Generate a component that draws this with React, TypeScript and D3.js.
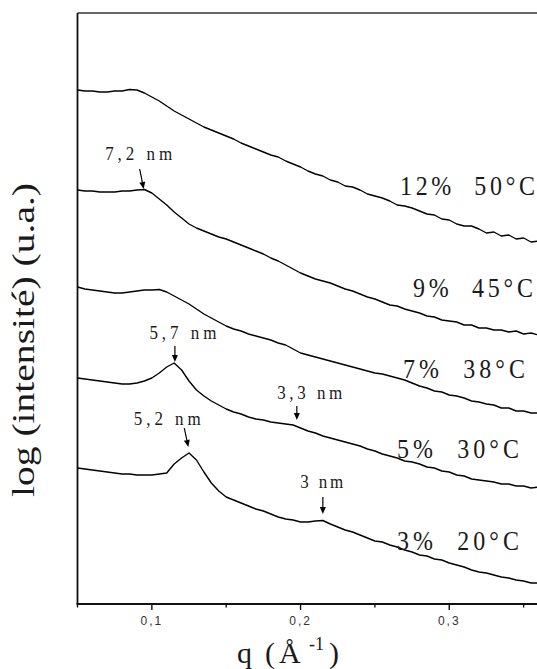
import React from 'react';
import * as d3 from 'd3';

// scattering vector q (Å^-1)
const qValues = [
  0.05, 0.055, 0.06, 0.065, 0.07, 0.075, 0.08, 0.085, 0.09, 0.095,
  0.1, 0.105, 0.11, 0.115, 0.12, 0.125, 0.13, 0.135, 0.14, 0.145,
  0.15, 0.155, 0.16, 0.165, 0.17, 0.175, 0.18, 0.185, 0.19, 0.195,
  0.2, 0.205, 0.21, 0.215, 0.22, 0.225, 0.23, 0.235, 0.24, 0.245,
  0.25, 0.255, 0.26, 0.265, 0.27, 0.275, 0.28, 0.285, 0.29, 0.295,
  0.3, 0.305, 0.31, 0.315, 0.32, 0.325, 0.33, 0.335, 0.34, 0.345,
  0.35, 0.355, 0.36,
];

// log intensity (arbitrary units, curves shifted vertically)
const c12_50 = [
  5.14, 5.13, 5.13, 5.12, 5.12, 5.13, 5.13, 5.145, 5.14, 5.11,
  5.07, 5.03, 4.98, 4.93, 4.89, 4.85, 4.81, 4.77, 4.74, 4.71,
  4.68, 4.65, 4.61, 4.58, 4.55, 4.52, 4.49, 4.47, 4.43, 4.40,
  4.37, 4.33, 4.30, 4.28, 4.24, 4.22, 4.18, 4.17, 4.14, 4.10,
  4.08, 4.06, 4.03, 3.99, 3.98, 3.96, 3.93, 3.90, 3.89, 3.85,
  3.84, 3.80, 3.78, 3.78, 3.75, 3.71, 3.72, 3.68, 3.69, 3.65,
  3.66, 3.62, 3.63,
];
const c9_45 = [
  4.14, 4.13, 4.13, 4.12, 4.12, 4.12, 4.13, 4.13, 4.14, 4.145,
  4.11, 4.05, 3.99, 3.92, 3.86, 3.80, 3.76, 3.73, 3.70, 3.67,
  3.65, 3.62, 3.59, 3.56, 3.53, 3.50, 3.46, 3.43, 3.39, 3.35,
  3.31, 3.28, 3.25, 3.23, 3.21, 3.18, 3.15, 3.13, 3.10, 3.07,
  3.05, 3.02, 2.99, 2.98, 2.95, 2.93, 2.91, 2.88, 2.87, 2.84,
  2.83, 2.82, 2.79, 2.79, 2.76, 2.76, 2.74, 2.74, 2.72, 2.73,
  2.70, 2.71, 2.69,
];
const c7_38 = [
  3.17, 3.15, 3.14, 3.13, 3.12, 3.11, 3.11, 3.12, 3.13, 3.14,
  3.14, 3.145, 3.12, 3.08, 3.04, 3.00, 2.95, 2.90, 2.86, 2.82,
  2.78, 2.75, 2.73, 2.70, 2.68, 2.66, 2.64, 2.61, 2.59, 2.55,
  2.51, 2.49, 2.47, 2.45, 2.43, 2.41, 2.39, 2.37, 2.35, 2.33,
  2.31, 2.30, 2.28, 2.26, 2.24, 2.21, 2.18, 2.16, 2.13, 2.12,
  2.09, 2.08, 2.06, 2.03, 2.02, 2.00, 1.99, 1.96, 1.96, 1.93,
  1.93, 1.91, 1.91,
];
const c5_30 = [
  2.26, 2.25, 2.24, 2.23, 2.22, 2.21, 2.20, 2.20, 2.21, 2.23,
  2.26, 2.31, 2.37, 2.41, 2.34, 2.23, 2.14, 2.08, 2.03, 1.99,
  1.95, 1.92, 1.90, 1.87, 1.85, 1.84, 1.82, 1.81, 1.80, 1.79,
  1.76, 1.73, 1.71, 1.68, 1.66, 1.64, 1.62, 1.60, 1.58, 1.55,
  1.53, 1.50, 1.48, 1.46, 1.43, 1.42, 1.40, 1.37, 1.36, 1.33,
  1.32, 1.29, 1.28, 1.25, 1.24, 1.23, 1.22, 1.20, 1.20, 1.18,
  1.18, 1.16, 1.17,
];
const c3_20 = [
  1.36, 1.35, 1.34, 1.33, 1.32, 1.31, 1.30, 1.30, 1.29, 1.29,
  1.29, 1.30, 1.31, 1.40, 1.46, 1.51, 1.44, 1.32, 1.21, 1.13,
  1.07, 1.04, 1.01, 0.98, 0.95, 0.93, 0.90, 0.87, 0.85, 0.84,
  0.82, 0.82, 0.83, 0.835, 0.80, 0.77, 0.74, 0.72, 0.69, 0.66,
  0.63, 0.62, 0.59, 0.57, 0.54, 0.52, 0.49, 0.48, 0.45, 0.44,
  0.41, 0.39, 0.37, 0.34, 0.32, 0.31, 0.29, 0.27, 0.26, 0.24,
  0.23, 0.21, 0.21,
];

const seriesValues = [c12_50, c9_45, c7_38, c5_30, c3_20];
const seriesLabels = ['12%  50°C', '9%  45°C', '7%  38°C', '5%  30°C', '3%  20°C'];

// peak annotations: label, q of arrow, log-intensity at arrow tip
const peakLabels = ['7,2 nm', '5,7 nm', '3,3 nm', '5,2 nm', '3 nm'];
const peakQ = [0.0945, 0.1155, 0.1975, 0.1245, 0.215];
const peakTip = [4.15, 2.42, 1.84, 1.57, 0.9];

const majorTicks = [0.1, 0.2, 0.3];
const majorTickLabels = ['0,1', '0,2', '0,3'];
const minorTicks = [0.05, 0.15, 0.25, 0.35];

const SERIF = '"Liberation Serif", "Times New Roman", Times, serif';
const SANS = '"Liberation Sans", Arial, Helvetica, sans-serif';

export default function App() {
  const W = 537;
  const H = 669;
  const left = 77.5;
  const top = 13;
  const bottom = 604;

  const x = d3.scaleLinear().domain([0.05, 0.36]).range([left, left + 0.31 * 1487]);
  const y = d3.scaleLinear().domain([0, 5.91]).range([bottom, top]);

  const line = d3
    .line<number>()
    .x((_, i) => x(qValues[i]))
    .y((d) => y(d));

  // layout of text (pixels)
  const seriesLabelPos = [
    { x: 400, y: 195, w: 135 },
    { x: 413, y: 297, w: 120 },
    { x: 403, y: 378, w: 122 },
    { x: 397, y: 458, w: 122 },
    { x: 397, y: 550, w: 122 },
  ];
  // arrow start offset (dx, dy) from tip, label centre offset, label width
  const peakLayout = [
    { ax: -4, ay: -20, lx: -5, ly: -29, w: 67 },
    { ax: 0, ay: -16, lx: 8, ly: -23, w: 67 },
    { ax: 0, ay: -14, lx: 13, ly: -21, w: 65 },
    { ax: -4, ay: -19, lx: -21, ly: -22, w: 67 },
    { ax: 0, ay: -17, lx: -1, ly: -26, w: 43 },
  ];

  return (
    <svg
      width={W}
      height={H}
      style={{ position: 'absolute', left: 0, top: 0, background: '#fff' }}
    >
      <rect x={0} y={0} width={W} height={H} fill="#fff" />

      {/* frame */}
      <line x1={left} x2={W} y1={top} y2={top} stroke="#333" strokeWidth={1.5} />
      <line x1={left} x2={left} y1={top} y2={bottom} stroke="#111" strokeWidth={1.8} />
      <line x1={left - 1} x2={W} y1={bottom} y2={bottom} stroke="#111" strokeWidth={1.8} />

      {/* ticks */}
      {majorTicks.map((t, i) => (
        <g key={'M' + i}>
          <line x1={x(t)} x2={x(t)} y1={bottom} y2={bottom + 6} stroke="#111" strokeWidth={1.4} />
          <text
            x={x(t)}
            y={625}
            textAnchor="middle"
            fontFamily={SANS}
            fontSize={12}
            letterSpacing={2}
            fill="#333"
          >
            {majorTickLabels[i]}
          </text>
        </g>
      ))}
      {minorTicks.map((t, i) => (
        <line key={'m' + i} x1={x(t)} x2={x(t)} y1={bottom} y2={bottom + 3.5} stroke="#111" strokeWidth={1.4} />
      ))}

      {/* curves */}
      {seriesValues.map((vals, i) => (
        <path
          key={'c' + i}
          d={line(vals) || ''}
          fill="none"
          stroke="#000"
          strokeWidth={1.4}
          strokeLinejoin="round"
        />
      ))}

      {/* series labels */}
      {seriesLabels.map((lab, i) => {
        const p = seriesLabelPos[i];
        return (
          <text
            key={'l' + i}
            transform={`translate(${p.x},${p.y}) scale(1,1.12)`}
            fontFamily={SERIF}
            fontSize={24}
            textLength={p.w}
            lengthAdjust="spacing"
            style={{ whiteSpace: 'pre' }}
            fill="#1a1a1a"
          >
            {lab}
          </text>
        );
      })}

      {/* peak annotations */}
      {peakLabels.map((lab, i) => {
        const tx = x(peakQ[i]);
        const ty = y(peakTip[i]);
        const L = peakLayout[i];
        const sx = tx + L.ax;
        const sy = ty + L.ay;
        const ang = Math.atan2(ty - sy, tx - sx);
        const hl = 7;
        const hw = 3;
        const bx = tx - hl * Math.cos(ang);
        const by = ty - hl * Math.sin(ang);
        const px = -Math.sin(ang) * hw;
        const py = Math.cos(ang) * hw;
        return (
          <g key={'p' + i}>
            <line x1={sx} y1={sy} x2={bx} y2={by} stroke="#000" strokeWidth={1.2} />
            <path
              d={`M${tx},${ty}L${bx + px},${by + py}L${bx - px},${by - py}Z`}
              fill="#000"
            />
            <text
              transform={`translate(${tx + L.lx - L.w / 2},${ty + L.ly}) scale(1,1.1)`}
              fontFamily={SERIF}
              fontSize={17}
              textLength={L.w}
              lengthAdjust="spacing"
              style={{ whiteSpace: 'pre' }}
              fill="#1a1a1a"
            >
              {lab}
            </text>
          </g>
        );
      })}

      {/* axis titles */}
      <g fontFamily={SERIF} fill="#1a1a1a">
        <text x={237} y={663} fontSize={30}>q</text>
        <text x={265} y={663} fontSize={30}>(</text>
        <text x={279} y={663} fontSize={30}>Å</text>
        <text x={309} y={650} fontSize={18}>-1</text>
        <text x={329} y={663} fontSize={30}>)</text>
        <text
          transform="translate(34,340) rotate(-90)"
          textAnchor="middle"
          fontSize={32}
          textLength={314}
          lengthAdjust="spacingAndGlyphs"
        >
          log (intensité) (u.a.)
        </text>
      </g>
    </svg>
  );
}
